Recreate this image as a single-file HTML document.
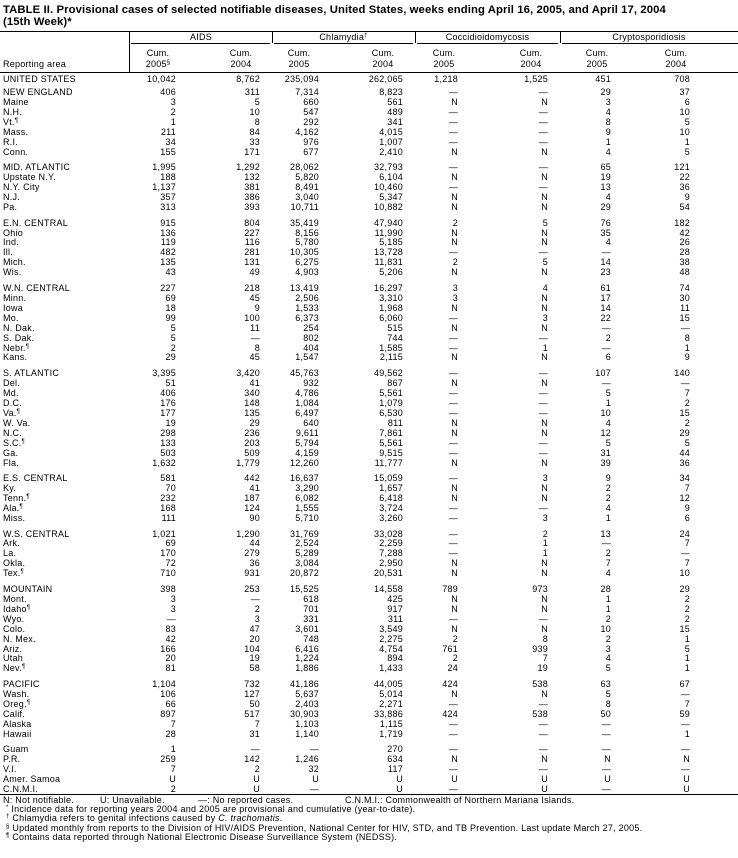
<!DOCTYPE html>
<html><head><meta charset="utf-8"><style>
*{margin:0;padding:0;box-sizing:border-box}
body{width:738px;height:858px;background:#fff;position:relative;overflow:hidden;font-family:"Liberation Sans",Arial,sans-serif;font-size:9px;letter-spacing:0.25px;color:#000}
.t{position:absolute;left:3px;font-weight:bold;font-size:11.3px;letter-spacing:0.1px;line-height:12px}
.hl{position:absolute;background:#000;height:1px}
.vl{position:absolute;background:#000;width:1px}
.a{position:absolute;white-space:nowrap;line-height:10px}
.hc{position:absolute;width:60px;text-align:center;line-height:10px;white-space:nowrap}
#d{position:absolute;left:0;top:74px;width:738px}
#d div{position:relative;height:9.95px;line-height:10px}
#d div.g{height:5.7px}
#d div.g0{height:3px}
#d>div>span{position:absolute;white-space:nowrap;top:0}
#d>div>span:nth-child(1){left:3px}
#d>div>span:nth-child(2){right:562px}
#d>div>span:nth-child(3){right:478px}
#d>div>span:nth-child(4){right:419px}
#d>div>span:nth-child(5){right:335px}
#d>div>span:nth-child(6){right:280px}
#d>div>span:nth-child(7){right:190px}
#d>div>span:nth-child(8){right:127px}
#d>div>span:nth-child(9){right:48px}
sup{font-size:6px;vertical-align:3px;line-height:0;position:static}
.f{position:absolute;left:3px;white-space:nowrap;line-height:10px}
</style></head><body>
<div class="t" style="top:4px">TABLE II. Provisional cases of selected notifiable diseases, United States, weeks ending April 16, 2005, and April 17, 2004</div>
<div class="t" style="top:16px">(15th Week)*</div>
<div class="hl" style="left:0;top:31px;width:738px"></div>
<div class="vl" style="left:129px;top:31px;height:41px"></div>
<div class="vl" style="left:272px;top:31px;height:12px"></div>
<div class="vl" style="left:415px;top:31px;height:12px"></div>
<div class="vl" style="left:560px;top:31px;height:12px"></div>
<div class="a" style="left:130px;width:142px;text-align:center;top:32px">AIDS</div>
<div class="a" style="left:272px;width:143px;text-align:center;top:32px">Chlamydia<sup>†</sup></div>
<div class="a" style="left:415px;width:145px;text-align:center;top:32px">Coccidioidomycosis</div>
<div class="a" style="left:560px;width:178px;text-align:center;top:32px">Cryptosporidiosis</div>
<div class="hl" style="left:131px;top:43px;width:139px"></div>
<div class="hl" style="left:274px;top:43px;width:139px"></div>
<div class="hl" style="left:417px;top:43px;width:141px"></div>
<div class="hl" style="left:562px;top:43px;width:176px"></div>
<div class="hc" style="left:128px;top:48px">Cum.</div><div class="hc" style="left:128px;top:59px">2005<sup>§</sup></div>
<div class="hc" style="left:211px;top:48px">Cum.</div><div class="hc" style="left:211px;top:59px">2004</div>
<div class="hc" style="left:269px;top:48px">Cum.</div><div class="hc" style="left:269px;top:59px">2005</div>
<div class="hc" style="left:353px;top:48px">Cum.</div><div class="hc" style="left:353px;top:59px">2004</div>
<div class="hc" style="left:414px;top:48px">Cum.</div><div class="hc" style="left:414px;top:59px">2005</div>
<div class="hc" style="left:501px;top:48px">Cum.</div><div class="hc" style="left:501px;top:59px">2004</div>
<div class="hc" style="left:567px;top:48px">Cum.</div><div class="hc" style="left:567px;top:59px">2005</div>
<div class="hc" style="left:646px;top:48px">Cum.</div><div class="hc" style="left:646px;top:59px">2004</div>
<div class="a" style="left:3px;top:59px">Reporting area</div>
<div class="hl" style="left:0;top:72px;width:738px"></div>
<div id="d">
<div><span>UNITED STATES</span><span>10,042</span><span>8,762</span><span>235,094</span><span>262,065</span><span>1,218</span><span>1,525</span><span>451</span><span>708</span></div>
<div class="g0"></div>
<div><span>NEW ENGLAND</span><span>406</span><span>311</span><span>7,314</span><span>8,823</span><span>—</span><span>—</span><span>29</span><span>37</span></div>
<div><span>Maine</span><span>3</span><span>5</span><span>660</span><span>561</span><span>N</span><span>N</span><span>3</span><span>6</span></div>
<div><span>N.H.</span><span>2</span><span>10</span><span>547</span><span>489</span><span>—</span><span>—</span><span>4</span><span>10</span></div>
<div><span>Vt.<sup>¶</sup></span><span>1</span><span>8</span><span>292</span><span>341</span><span>—</span><span>—</span><span>8</span><span>5</span></div>
<div><span>Mass.</span><span>211</span><span>84</span><span>4,162</span><span>4,015</span><span>—</span><span>—</span><span>9</span><span>10</span></div>
<div><span>R.I.</span><span>34</span><span>33</span><span>976</span><span>1,007</span><span>—</span><span>—</span><span>1</span><span>1</span></div>
<div><span>Conn.</span><span>155</span><span>171</span><span>677</span><span>2,410</span><span>N</span><span>N</span><span>4</span><span>5</span></div>
<div class="g"></div>
<div><span>MID. ATLANTIC</span><span>1,995</span><span>1,292</span><span>28,062</span><span>32,793</span><span>—</span><span>—</span><span>65</span><span>121</span></div>
<div><span>Upstate N.Y.</span><span>188</span><span>132</span><span>5,820</span><span>6,104</span><span>N</span><span>N</span><span>19</span><span>22</span></div>
<div><span>N.Y. City</span><span>1,137</span><span>381</span><span>8,491</span><span>10,460</span><span>—</span><span>—</span><span>13</span><span>36</span></div>
<div><span>N.J.</span><span>357</span><span>386</span><span>3,040</span><span>5,347</span><span>N</span><span>N</span><span>4</span><span>9</span></div>
<div><span>Pa.</span><span>313</span><span>393</span><span>10,711</span><span>10,882</span><span>N</span><span>N</span><span>29</span><span>54</span></div>
<div class="g"></div>
<div><span>E.N. CENTRAL</span><span>915</span><span>804</span><span>35,419</span><span>47,940</span><span>2</span><span>5</span><span>76</span><span>182</span></div>
<div><span>Ohio</span><span>136</span><span>227</span><span>8,156</span><span>11,990</span><span>N</span><span>N</span><span>35</span><span>42</span></div>
<div><span>Ind.</span><span>119</span><span>116</span><span>5,780</span><span>5,185</span><span>N</span><span>N</span><span>4</span><span>26</span></div>
<div><span>Ill.</span><span>482</span><span>281</span><span>10,305</span><span>13,728</span><span>—</span><span>—</span><span>—</span><span>28</span></div>
<div><span>Mich.</span><span>135</span><span>131</span><span>6,275</span><span>11,831</span><span>2</span><span>5</span><span>14</span><span>38</span></div>
<div><span>Wis.</span><span>43</span><span>49</span><span>4,903</span><span>5,206</span><span>N</span><span>N</span><span>23</span><span>48</span></div>
<div class="g"></div>
<div><span>W.N. CENTRAL</span><span>227</span><span>218</span><span>13,419</span><span>16,297</span><span>3</span><span>4</span><span>61</span><span>74</span></div>
<div><span>Minn.</span><span>69</span><span>45</span><span>2,506</span><span>3,310</span><span>3</span><span>N</span><span>17</span><span>30</span></div>
<div><span>Iowa</span><span>18</span><span>9</span><span>1,533</span><span>1,968</span><span>N</span><span>N</span><span>14</span><span>11</span></div>
<div><span>Mo.</span><span>99</span><span>100</span><span>6,373</span><span>6,060</span><span>—</span><span>3</span><span>22</span><span>15</span></div>
<div><span>N. Dak.</span><span>5</span><span>11</span><span>254</span><span>515</span><span>N</span><span>N</span><span>—</span><span>—</span></div>
<div><span>S. Dak.</span><span>5</span><span>—</span><span>802</span><span>744</span><span>—</span><span>—</span><span>2</span><span>8</span></div>
<div><span>Nebr.<sup>¶</sup></span><span>2</span><span>8</span><span>404</span><span>1,585</span><span>—</span><span>1</span><span>—</span><span>1</span></div>
<div><span>Kans.</span><span>29</span><span>45</span><span>1,547</span><span>2,115</span><span>N</span><span>N</span><span>6</span><span>9</span></div>
<div class="g"></div>
<div><span>S. ATLANTIC</span><span>3,395</span><span>3,420</span><span>45,763</span><span>49,562</span><span>—</span><span>—</span><span>107</span><span>140</span></div>
<div><span>Del.</span><span>51</span><span>41</span><span>932</span><span>867</span><span>N</span><span>N</span><span>—</span><span>—</span></div>
<div><span>Md.</span><span>406</span><span>340</span><span>4,786</span><span>5,561</span><span>—</span><span>—</span><span>5</span><span>7</span></div>
<div><span>D.C.</span><span>176</span><span>148</span><span>1,084</span><span>1,079</span><span>—</span><span>—</span><span>1</span><span>2</span></div>
<div><span>Va.<sup>¶</sup></span><span>177</span><span>135</span><span>6,497</span><span>6,530</span><span>—</span><span>—</span><span>10</span><span>15</span></div>
<div><span>W. Va.</span><span>19</span><span>29</span><span>640</span><span>811</span><span>N</span><span>N</span><span>4</span><span>2</span></div>
<div><span>N.C.</span><span>298</span><span>236</span><span>9,611</span><span>7,861</span><span>N</span><span>N</span><span>12</span><span>29</span></div>
<div><span>S.C.<sup>¶</sup></span><span>133</span><span>203</span><span>5,794</span><span>5,561</span><span>—</span><span>—</span><span>5</span><span>5</span></div>
<div><span>Ga.</span><span>503</span><span>509</span><span>4,159</span><span>9,515</span><span>—</span><span>—</span><span>31</span><span>44</span></div>
<div><span>Fla.</span><span>1,632</span><span>1,779</span><span>12,260</span><span>11,777</span><span>N</span><span>N</span><span>39</span><span>36</span></div>
<div class="g"></div>
<div><span>E.S. CENTRAL</span><span>581</span><span>442</span><span>16,637</span><span>15,059</span><span>—</span><span>3</span><span>9</span><span>34</span></div>
<div><span>Ky.</span><span>70</span><span>41</span><span>3,290</span><span>1,657</span><span>N</span><span>N</span><span>2</span><span>7</span></div>
<div><span>Tenn.<sup>¶</sup></span><span>232</span><span>187</span><span>6,082</span><span>6,418</span><span>N</span><span>N</span><span>2</span><span>12</span></div>
<div><span>Ala.<sup>¶</sup></span><span>168</span><span>124</span><span>1,555</span><span>3,724</span><span>—</span><span>—</span><span>4</span><span>9</span></div>
<div><span>Miss.</span><span>111</span><span>90</span><span>5,710</span><span>3,260</span><span>—</span><span>3</span><span>1</span><span>6</span></div>
<div class="g"></div>
<div><span>W.S. CENTRAL</span><span>1,021</span><span>1,290</span><span>31,769</span><span>33,028</span><span>—</span><span>2</span><span>13</span><span>24</span></div>
<div><span>Ark.</span><span>69</span><span>44</span><span>2,524</span><span>2,259</span><span>—</span><span>1</span><span>—</span><span>7</span></div>
<div><span>La.</span><span>170</span><span>279</span><span>5,289</span><span>7,288</span><span>—</span><span>1</span><span>2</span><span>—</span></div>
<div><span>Okla.</span><span>72</span><span>36</span><span>3,084</span><span>2,950</span><span>N</span><span>N</span><span>7</span><span>7</span></div>
<div><span>Tex.<sup>¶</sup></span><span>710</span><span>931</span><span>20,872</span><span>20,531</span><span>N</span><span>N</span><span>4</span><span>10</span></div>
<div class="g"></div>
<div><span>MOUNTAIN</span><span>398</span><span>253</span><span>15,525</span><span>14,558</span><span>789</span><span>973</span><span>28</span><span>29</span></div>
<div><span>Mont.</span><span>3</span><span>—</span><span>618</span><span>425</span><span>N</span><span>N</span><span>1</span><span>2</span></div>
<div><span>Idaho<sup>¶</sup></span><span>3</span><span>2</span><span>701</span><span>917</span><span>N</span><span>N</span><span>1</span><span>2</span></div>
<div><span>Wyo.</span><span>—</span><span>3</span><span>331</span><span>311</span><span>—</span><span>—</span><span>2</span><span>2</span></div>
<div><span>Colo.</span><span>83</span><span>47</span><span>3,601</span><span>3,549</span><span>N</span><span>N</span><span>10</span><span>15</span></div>
<div><span>N. Mex.</span><span>42</span><span>20</span><span>748</span><span>2,275</span><span>2</span><span>8</span><span>2</span><span>1</span></div>
<div><span>Ariz.</span><span>166</span><span>104</span><span>6,416</span><span>4,754</span><span>761</span><span>939</span><span>3</span><span>5</span></div>
<div><span>Utah</span><span>20</span><span>19</span><span>1,224</span><span>894</span><span>2</span><span>7</span><span>4</span><span>1</span></div>
<div><span>Nev.<sup>¶</sup></span><span>81</span><span>58</span><span>1,886</span><span>1,433</span><span>24</span><span>19</span><span>5</span><span>1</span></div>
<div class="g"></div>
<div><span>PACIFIC</span><span>1,104</span><span>732</span><span>41,186</span><span>44,005</span><span>424</span><span>538</span><span>63</span><span>67</span></div>
<div><span>Wash.</span><span>106</span><span>127</span><span>5,637</span><span>5,014</span><span>N</span><span>N</span><span>5</span><span>—</span></div>
<div><span>Oreg.<sup>¶</sup></span><span>66</span><span>50</span><span>2,403</span><span>2,271</span><span>—</span><span>—</span><span>8</span><span>7</span></div>
<div><span>Calif.</span><span>897</span><span>517</span><span>30,903</span><span>33,886</span><span>424</span><span>538</span><span>50</span><span>59</span></div>
<div><span>Alaska</span><span>7</span><span>7</span><span>1,103</span><span>1,115</span><span>—</span><span>—</span><span>—</span><span>—</span></div>
<div><span>Hawaii</span><span>28</span><span>31</span><span>1,140</span><span>1,719</span><span>—</span><span>—</span><span>—</span><span>1</span></div>
<div class="g"></div>
<div><span>Guam</span><span>1</span><span>—</span><span>—</span><span>270</span><span>—</span><span>—</span><span>—</span><span>—</span></div>
<div><span>P.R.</span><span>259</span><span>142</span><span>1,246</span><span>634</span><span>N</span><span>N</span><span>N</span><span>N</span></div>
<div><span>V.I.</span><span>7</span><span>2</span><span>32</span><span>117</span><span>—</span><span>—</span><span>—</span><span>—</span></div>
<div><span>Amer. Samoa</span><span>U</span><span>U</span><span>U</span><span>U</span><span>U</span><span>U</span><span>U</span><span>U</span></div>
<div><span>C.N.M.I.</span><span>2</span><span>U</span><span>—</span><span>U</span><span>—</span><span>U</span><span>—</span><span>U</span></div>
</div>
<div class="hl" style="left:0;top:794px;width:738px"></div>
<div class="f" style="top:795px">N: Not notifiable.</div>
<div class="f" style="top:795px;left:100px">U: Unavailable.</div>
<div class="f" style="top:795px;left:198px">—: No reported cases.</div>
<div class="f" style="top:795px;left:345px">C.N.M.I.: Commonwealth of Northern Mariana Islands.</div>
<div class="f" style="top:804px;left:6px"><sup>*</sup> Incidence data for reporting years 2004 and 2005 are provisional and cumulative (year-to-date).</div>
<div class="f" style="top:813px;left:6px"><sup>†</sup> Chlamydia refers to genital infections caused by <i>C. trachomatis</i>.</div>
<div class="f" style="top:823px;left:6px"><sup>§</sup> Updated monthly from reports to the Division of HIV/AIDS Prevention, National Center for HIV, STD, and TB Prevention. Last update March 27, 2005.</div>
<div class="f" style="top:832px;left:6px"><sup>¶</sup> Contains data reported through National Electronic Disease Surveillance System (NEDSS).</div>
</body></html>
